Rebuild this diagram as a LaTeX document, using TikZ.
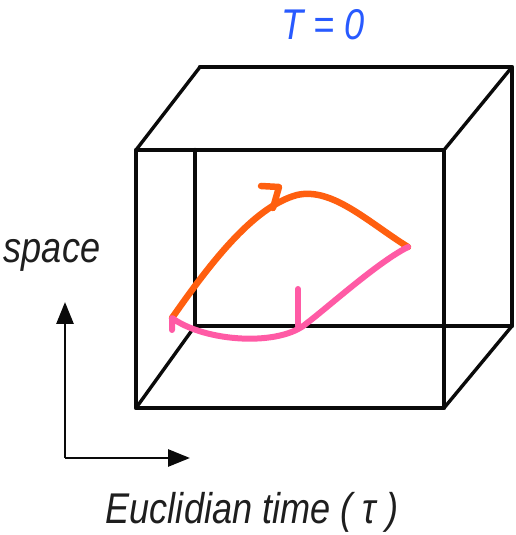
\documentclass[tikz,border=0pt]{standalone}
\usepackage{fontspec}
\usetikzlibrary{arrows.meta,positioning}
\newfontfamily\labelfont{Liberation Sans}[FakeStretch=0.84]
\definecolor{lineblack}{RGB}{10,10,10}
\definecolor{textgray}{RGB}{30,30,30}
\definecolor{zeroblue}{RGB}{40,90,255}
\definecolor{pathorange}{RGB}{255,95,15}
\definecolor{pathpink}{RGB}{255,90,165}
\tikzset{
    edge/.style = {draw=lineblack, line width=4.4pt, line cap=round, line join=round},
    slant/.style = {draw=lineblack, line width=3.4pt, line cap=round},
    axis/.style = {draw=lineblack, line width=2.8pt, -{Triangle[length=22pt,width=17pt]}},
    label/.style = {font=\labelfont\itshape\fontsize{43}{48}\selectfont, text=textgray, inner sep=0pt},
    forward/.style = {draw=pathorange, line width=6.5pt, line cap=round, line join=round},
    backward/.style = {draw=pathpink, line width=6pt, line cap=round, line join=round},
}

\begin{document}
\begin{tikzpicture}[x=1pt, y=1pt]
    \useasboundingbox (0,0) rectangle (516,535);

    % box corners
    \coordinate (fTL) at (136,385);
    \coordinate (fTR) at (444,385);
    \coordinate (fBL) at (136,127);
    \coordinate (fBR) at (444,127);
    \coordinate (bTL) at (200,468);
    \coordinate (bTR) at (512,468);
    \coordinate (bBL) at (195,209);
    \coordinate (bBR) at (512,209);
    \coordinate (bLtop) at (195,385);

    \draw[edge] (fTL) -- (fTR) -- (fBR) -- (fBL) -- cycle;
    \draw[edge] (bTL) -- (bTR) -- (bBR) -- (bBL) -- (bLtop);
    \draw[slant] (fTL) -- (bTL);
    \draw[slant] (fTR) -- (bTR);
    \draw[slant] (fBL) -- (bBL);
    \draw[slant] (fBR) -- (bBR);

    % closed path in euclidean time
    \coordinate (start) at (172,217);
    \coordinate (top) at (297,340);
    \coordinate (turn) at (408,288);
    \coordinate (low) at (307,212);
    \coordinate (oTip) at (279,348);
    \coordinate (pTick) at (298,246);
    \coordinate (pFoot) at (298,209);

    \draw[forward] (start) .. controls (207,267) and (252,328) .. (top)
                           .. controls (332,348) and (368,313) .. (turn);
    \draw[forward] (261,349) -- (oTip) -- (273,327);
    \draw[backward] (turn) .. controls (378,273) and (327,227) .. (low)
                           .. controls (280,188) and (205,193) .. (start) -- ++(0,-12);
    \draw[backward] (pTick) -- (pFoot);

    % axes
    \coordinate (origin) at (65,77);
    \coordinate (up) at (65,233);
    \coordinate (right) at (190,77);
    \draw[axis] (origin) -- (up);
    \draw[axis] (origin) -- (right);

    \node[label] (space) at (52,280) {space};
    \node[label, anchor=base] (time) at (252,12) {Euclidian time ( τ )};
    \node[label, anchor=base, text=zeroblue] (tzero) at (323,495) {T = 0};
\end{tikzpicture}
\end{document}
